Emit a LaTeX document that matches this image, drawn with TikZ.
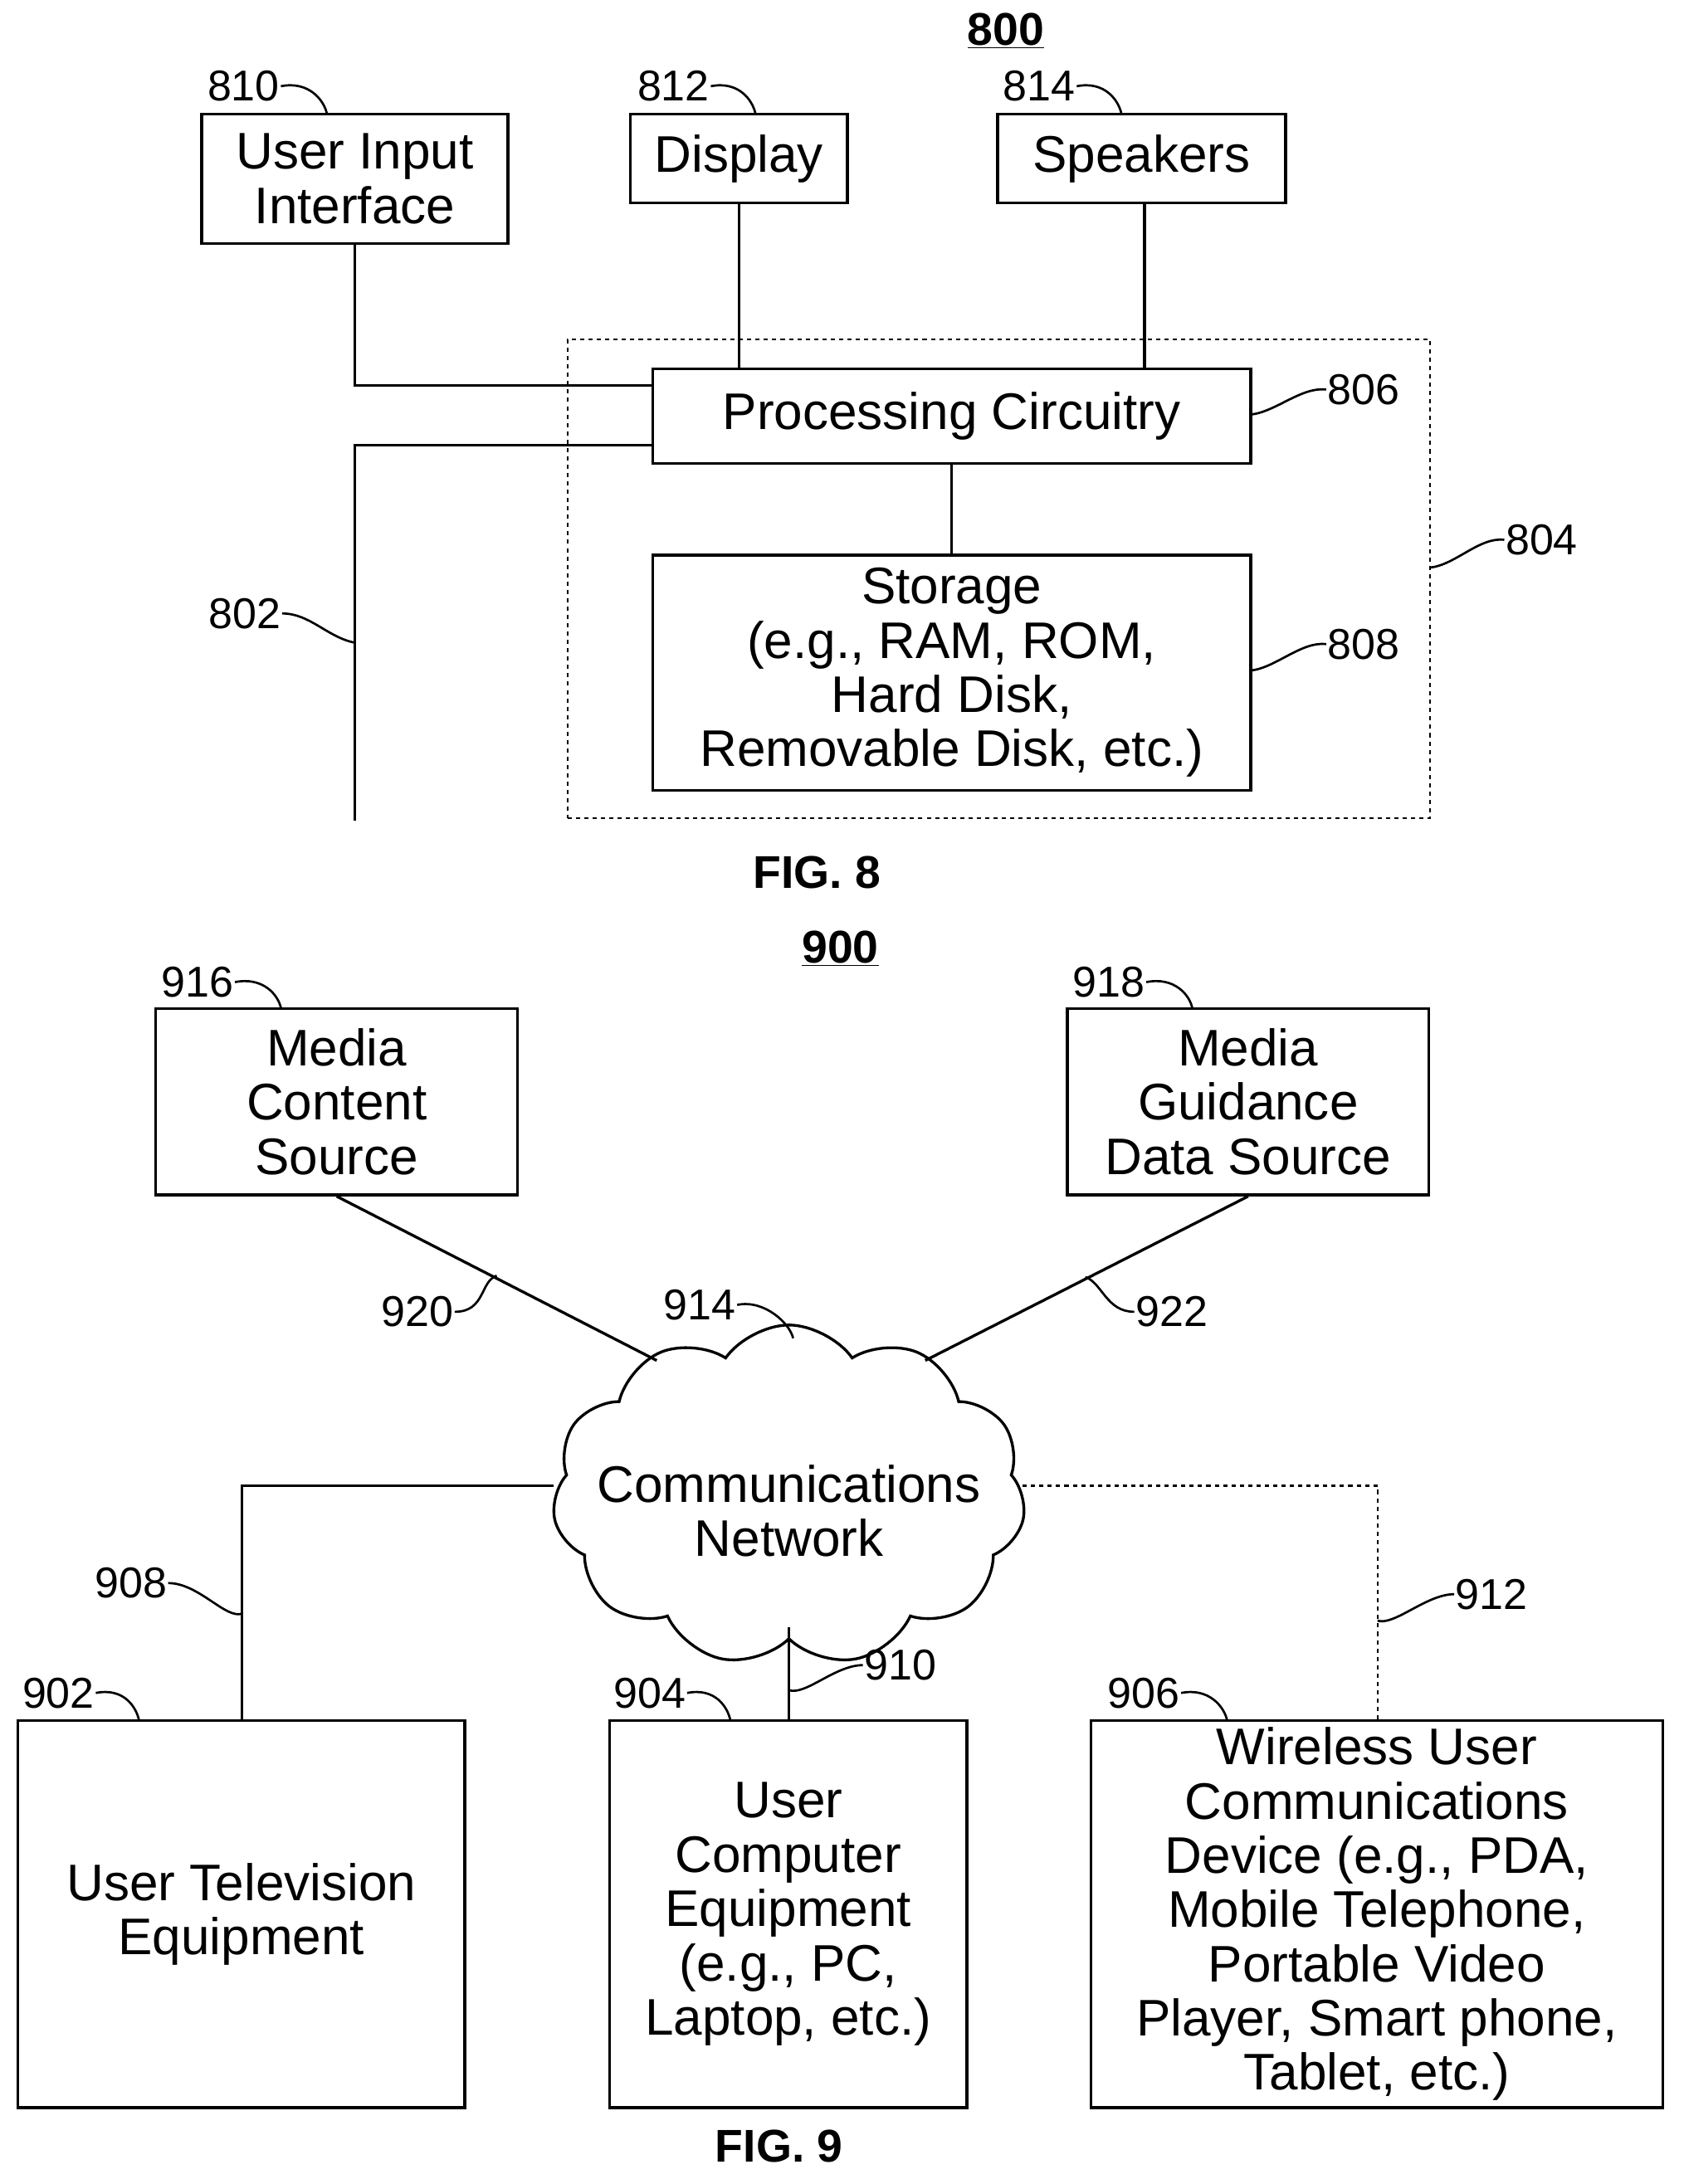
\documentclass[tikz,border=0pt]{standalone}
\usepackage{fontspec}
\setmainfont{Liberation Sans}
\usetikzlibrary{shapes.symbols}
\begin{document}
\begin{tikzpicture}[x=1pt,y=-1pt,line width=2pt,
 box/.style={draw,rectangle,inner sep=0pt,align=center,font=\fontsize{37}{39}\selectfont},
 lab/.style={inner sep=0pt,font=\fontsize{31}{33}\selectfont},
 ttl/.style={inner sep=0pt,font=\fontsize{33}{35}\selectfont\bfseries},
 lead/.style={line width=1.6pt}]
\useasboundingbox (0,0) rectangle (1210,1570);
% FIG 8
\node[ttl] (t800) at (723,22) {\underline{800}};
\node[box,minimum width=220,minimum height=93] (b810) at (255,128.5) {User Input\\Interface};
\node[box,minimum width=156,minimum height=64] (b812) at (531,114) {Display};
\node[box,minimum width=207,minimum height=64] (b814) at (820.5,114) {Speakers};
\node[draw,dashed,line width=1.3pt,minimum width=620,minimum height=344,inner sep=0] (b804) at (718,416) {};
\node[box,minimum width=430,minimum height=68] (b806) at (684,299) {Processing Circuitry};
\node[box,minimum width=430,minimum height=169] (b808) at (684,483.5) {Storage\\(e.g., RAM, ROM,\\Hard Disk,\\Removable Disk, etc.)};
\coordinate (c1) at (469,277);
\coordinate (c2) at (469,320);
\coordinate (e802) at (255,590);
\draw (b810.south) |- (c1);
\draw (b812.south) -- (b812.south |- b806.north);
\draw ([xshift=2pt]b814.south) -- ([xshift=2pt]b814.south |- b806.north);
\draw (c2) -| (e802);
\draw (b806) -- (b808);
\node[lab] (l810) at (175,62) {810};
\node[lab] (l812) at (484,62) {812};
\node[lab] (l814) at (747,62) {814};
\node[lab] (l806) at (980,280) {806};
\node[lab] (l804) at (1108,388) {804};
\node[lab] (l808) at (980,463) {808};
\node[lab] (l802) at (176,441) {802};
\coordinate (p810) at (235,82); \coordinate (p812) at (543,82); \coordinate (p814) at (806,82);
\coordinate (p806) at (899,298); \coordinate (p804) at (1028,408); \coordinate (p808) at (899,482);
\coordinate (p802) at (255,462);
\foreach \l/\p in {l810/p810,l812/p812,l814/p814}
  \draw[lead] (\l.east) .. controls +(20,-4) and +(-2,-10) .. (\p);
\foreach \l/\p in {l806/p806,l804/p804,l808/p808}
  \draw[lead] (\l.west) .. controls +(-18,-2) and +(18,-2) .. (\p);
\draw[lead] (l802.east) .. controls +(20,0) and +(-20,-4) .. (p802);
\node[ttl] (f8) at (587,627) {FIG. 8};
% FIG 9
\node[ttl] (t900) at (604,682) {\underline{900}};
\node[box,minimum width=260,minimum height=134] (b916) at (242,792) {Media\\Content\\Source};
\node[box,minimum width=260,minimum height=134] (b918) at (897,792) {Media\\Guidance\\Data Source};
\node[draw,cloud,cloud puffs=11,cloud puff arc=110,aspect=1.4,minimum width=340,minimum height=245,inner sep=0,align=center,font=\fontsize{37}{39}\selectfont] (cl) at (567,1075) {};
\node[inner sep=0,align=center,font=\fontsize{37}{39}\selectfont] (clt) at (567,1086) {Communications\\Network};
\node[box,minimum width=321,minimum height=278] (b902) at (173.5,1376) {User Television\\Equipment};
\node[box,minimum width=257,minimum height=278] (b904) at (566.5,1376) {User\\Computer\\Equipment\\(e.g., PC,\\Laptop, etc.)};
\node[box,minimum width=411,minimum height=278] (b906) at (989.5,1376) {Wireless User\\Communications\\Device (e.g., PDA,\\Mobile Telephone,\\Portable Video\\Player, Smart phone,\\Tablet, etc.)};
\coordinate (q1) at (472,978); \coordinate (q2) at (665,978);
\coordinate (q3) at (398,1068); \coordinate (q4) at (735,1068);
\coordinate (q5) at (567,1170);
\draw (b916.south) -- (q1);
\draw (b918.south) -- (q2);
\draw (q3) -| (174,1237);
\draw (q5) -- (q5 |- b904.north);
\draw[dashed,line width=1.3pt] (q4) -| (990,1237);
\node[lab] (l916) at (142,706) {916};
\node[lab] (l918) at (797,706) {918};
\node[lab] (l920) at (300,943) {920};
\node[lab] (l914) at (503,938) {914};
\node[lab] (l922) at (842,943) {922};
\node[lab] (l908) at (94,1138) {908};
\node[lab] (l912) at (1072,1146) {912};
\node[lab] (l910) at (647,1197) {910};
\node[lab] (l902) at (42,1217) {902};
\node[lab] (l904) at (467,1217) {904};
\node[lab] (l906) at (822,1217) {906};
\coordinate (r916) at (202,725); \coordinate (r918) at (857,725);
\coordinate (r920) at (357,917); \coordinate (r914) at (570,962);
\coordinate (r922) at (780,918); \coordinate (r908) at (174,1160);
\coordinate (r912) at (990,1165); \coordinate (r910) at (567,1215);
\coordinate (r902) at (100,1237); \coordinate (r904) at (525,1237); \coordinate (r906) at (882,1237);
\foreach \l/\p in {l916/r916,l918/r918,l914/r914,l902/r902,l904/r904,l906/r906}
  \draw[lead] (\l.east) .. controls +(20,-4) and +(-2,-10) .. (\p);
\foreach \l/\p in {l920/r920,l908/r908}
  \draw[lead] (\l.east) .. controls +(22,0) and +(-12,4) .. (\p);
\foreach \l/\p in {l922/r922,l912/r912,l910/r910}
  \draw[lead] (\l.west) .. controls +(-20,0) and +(12,4) .. (\p);
\node[ttl] (f9) at (560,1543) {FIG. 9};
\end{tikzpicture}
\end{document}
